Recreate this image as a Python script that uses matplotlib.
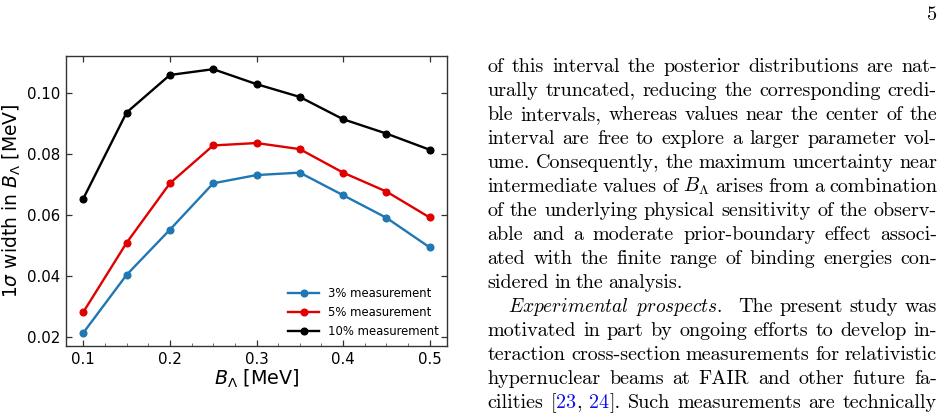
import matplotlib
matplotlib.use("Agg")
import matplotlib.pyplot as plt
from matplotlib.ticker import MultipleLocator

# ---------------- data ----------------
b_lambda = [0.10, 0.15, 0.20, 0.25, 0.30, 0.35, 0.40, 0.45, 0.50]
width_3 = [0.0215, 0.0405, 0.0553, 0.0705, 0.0732, 0.0740, 0.0666, 0.0592, 0.0495]
width_5 = [0.0283, 0.0510, 0.0705, 0.0829, 0.0837, 0.0817, 0.0740, 0.0678, 0.0593]
width_10 = [0.0655, 0.0937, 0.1060, 0.1079, 0.1030, 0.0988, 0.0915, 0.0868, 0.0815]
series_labels = ["3% measurement", "5% measurement", "10% measurement"]
series_colors = ["#1f77b4", "#e00000", "#000000"]
x_ticks = [0.1, 0.2, 0.3, 0.4, 0.5]
y_ticks = [0.02, 0.04, 0.06, 0.08, 0.10]

W, H, DPI = 945, 419, 100
fig = plt.figure(figsize=(W / DPI, H / DPI), dpi=DPI)

ax = fig.add_axes([66 / W, 1 - 346 / H, 381 / W, 290 / H])
for ys, lab, col in zip([width_3, width_5, width_10], series_labels, series_colors):
    ax.plot(b_lambda, ys, "-o", color=col, lw=1.7, ms=4.8, label=lab)

ax.set_xticks(x_ticks)
ax.set_yticks(y_ticks)
ax.set_xticklabels([f"{v:.1f}" for v in x_ticks])
ax.set_yticklabels([f"{v:.2f}" for v in y_ticks])
ax.xaxis.set_minor_locator(MultipleLocator(0.025))
ax.tick_params(axis="both", which="major", direction="in", top=True, right=True,
               length=4.5, width=0.9, labelsize=10.8, color="#333333", pad=4)
ax.tick_params(axis="x", which="minor", direction="in", top=False, bottom=True,
               length=2, width=0.6, color="#555555")
for s in ax.spines.values():
    s.set_color("#333333")
    s.set_linewidth(1.0)
ax.set_xlabel(r"$B_\Lambda$ [MeV]", fontsize=13.8, labelpad=1)
ax.set_ylabel(r"$1\sigma$ width in $B_\Lambda$ [MeV]", fontsize=13.5, labelpad=3)
ax.legend(loc="lower right", fontsize=8.4, frameon=False, handlelength=2.6,
          borderaxespad=0.3, labelspacing=0.5, handletextpad=0.8)

# ---------------- page text ----------------
page_num = "5"
fig.text(937 / W, 1 - 20 / H, page_num, family="cmr10", fontsize=14.6,
         ha="right", va="baseline")

R = "r"; I = "i"; B = "b"; M = "m"
lines = [
    ("j", 0, [[("of", R)], [("this", R)], [("interval", R)], [("the", R)], [("posterior", R)],
              [("distributions", R)], [("are", R)], [("nat-", R)]]),
    ("j", 0, [[("urally", R)], [("truncated,", R)], [("reducing", R)], [("the", R)],
              [("corresponding", R)], [("credi-", R)]]),
    ("j", 0, [[("ble", R)], [("intervals,", R)], [("whereas", R)], [("values", R)], [("near", R)],
              [("the", R)], [("center", R)], [("of", R)], [("the", R)]]),
    ("j", 0, [[("interval", R)], [("are", R)], [("free", R)], [("to", R)], [("explore", R)], [("a", R)],
              [("larger", R)], [("parameter", R)], [("vol-", R)]]),
    ("j", 0, [[("ume.", R)], [("Consequently,", R)], [("the", R)], [("maximum", R)],
              [("uncertainty", R)], [("near", R)]]),
    ("j", 0, [[("intermediate", R)], [("values", R)], [("of", R)], [(r"$B_\Lambda$", M)], [("arises", R)],
              [("from", R)], [("a", R)], [("combination", R)]]),
    ("j", 0, [[("of", R)], [("the", R)], [("underlying", R)], [("physical", R)], [("sensitivity", R)],
              [("of", R)], [("the", R)], [("observ-", R)]]),
    ("j", 0, [[("able", R)], [("and", R)], [("a", R)], [("moderate", R)], [("prior-boundary", R)],
              [("effect", R)], [("associ-", R)]]),
    ("j", 0, [[("ated", R)], [("with", R)], [("the", R)], [("finite", R)], [("range", R)], [("of", R)],
              [("binding", R)], [("energies", R)], [("con-", R)]]),
    ("l", 0, [[("sidered", R)], [("in", R)], [("the", R)], [("analysis.", R)]]),
    ("j", 21, [[(r"$\mathit{Experimental}$", I)], [(r"$\mathit{prospects.}$", I), ("  ", R)], [("The", R)],
               [("present", R)], [("study", R)], [("was", R)]]),
    ("j", 0, [[("motivated", R)], [("in", R)], [("part", R)], [("by", R)], [("ongoing", R)],
              [("efforts", R)], [("to", R)], [("develop", R)], [("in-", R)]]),
    ("j", 0, [[("teraction", R)], [("cross-section", R)], [("measurements", R)], [("for", R)],
              [("relativistic", R)]]),
    ("j", 0, [[("hypernuclear", R)], [("beams", R)], [("at", R)], [("FAIR", R)], [("and", R)],
              [("other", R)], [("future", R)], [("fa-", R)]]),
    ("j", 0, [[("cilities", R)], [("[", R), ("23", B), (",", R)], [("24", B), ("].", R)],
              [("Such", R)], [("measurements", R)], [("are", R)], [("technically", R)]]),
]

x_left, x_right = 487.5, 937.0
base0, lead = 71.7, 24.02
FS = 14.5
FS_IT = 13.9

fig.canvas.draw()
renderer = fig.canvas.get_renderer()


def make_text(s, style, x, y):
    kw = dict(va="baseline", ha="left")
    if style == I:
        t = fig.text(x / W, 1 - y / H, s, math_fontfamily="cm", family="cmr10",
                     fontsize=FS_IT, **kw)
    elif style == M:
        t = fig.text(x / W, 1 - y / H, s, math_fontfamily="cm", family="cmr10",
                     fontsize=FS, **kw)
    elif style == B:
        t = fig.text(x / W, 1 - y / H, s, family="cmr10", color="#1010ee", fontsize=FS, **kw)
    else:
        t = fig.text(x / W, 1 - y / H, s, family="cmr10", fontsize=FS, **kw)
    return t


def run_width(s, style):
    if s.strip() == "":
        return 5.0 * len(s)
    t = make_text(s, style, 0, 0)
    w = t.get_window_extent(renderer).width
    t.remove()
    return w


space_nat = 5.0
for li, (mode, indent, words) in enumerate(lines):
    y = base0 + li * lead
    widths = [[run_width(s, st) for s, st in word] for word in words]
    totals = [sum(w) for w in widths]
    avail = x_right - (x_left + indent)
    if mode == "j" and len(words) > 1:
        gap = (avail - sum(totals)) / (len(words) - 1)
    else:
        gap = space_nat
    x = x_left + indent
    for word, ws in zip(words, widths):
        xx = x
        for (s, st), w in zip(word, ws):
            if s.strip() != "":
                make_text(s, st, xx, y)
            xx += w
        x = xx + gap

fig.savefig("out.png", dpi=DPI)
